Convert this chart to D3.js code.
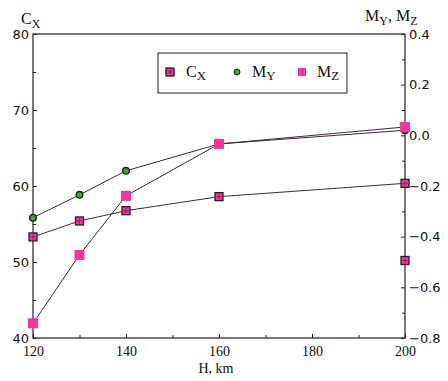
<!DOCTYPE html>
<html>
<head>
<meta charset="utf-8">
<script src="https://cdn.jsdelivr.net/npm/d3@7"></script>
<style>
  body { margin: 0; background: #fff; }
  svg { display: block; }
</style>
</head>
<body>
<svg id="chart" width="448" height="381"></svg>
<script>
const heights = [120, 130, 140, 160, 200];
const cxValues = [53.3, 55.4, 56.75, 58.6, 60.35];
const myValues = [-0.325, -0.235, -0.14, -0.034, 0.02];
const mzValues = [-0.742, -0.472, -0.239, -0.034, 0.033];
// lone Cx point at 200 km, not joined to the line
const cxExtra = [{h: 200, v: 50.2}];

const leftTicks = [40, 50, 60, 70, 80];
const rightTicks = [-0.8, -0.6, -0.4, -0.2, 0.0, 0.2, 0.4];
const xTicks = [120, 140, 160, 180, 200];

const PINK = '#f4369a';
const GREEN = '#3fa33a';
const INK = '#222';

const svg = d3.select('#chart');

const x = d3.scaleLinear().domain([120, 200]).range([33, 405]);
const yL = d3.scaleLinear().domain([40, 80]).range([338, 34]);
const yR = d3.scaleLinear().domain([-0.8, 0.4]).range([338, 34]);

// frame
svg.append('rect')
    .attr('x', 33).attr('y', 34)
    .attr('width', 372).attr('height', 304)
    .attr('fill', 'none')
    .attr('stroke', INK)
    .attr('stroke-width', 1.2);

function styleAxis(g, font) {
    g.select('.domain').remove();
    g.selectAll('line').attr('stroke', INK).attr('stroke-width', 1);
    g.selectAll('text')
        .attr('fill', '#111')
        .style('font-family', font)
        .style('font-size', '13px');
}

// minor ticks
svg.append('g').attr('transform', 'translate(33,0)')
    .call(d3.axisLeft(yL).tickValues(d3.range(45, 80, 10)).tickSize(-3).tickFormat(''))
    .call(g => styleAxis(g));
svg.append('g').attr('transform', 'translate(405,0)')
    .call(d3.axisRight(yR).tickValues(d3.range(-7, 4, 2).map(d => d / 10)).tickSize(-3).tickFormat(''))
    .call(g => styleAxis(g));
svg.append('g').attr('transform', 'translate(0,338)')
    .call(d3.axisBottom(x).tickValues(d3.range(130, 200, 20)).tickSize(-3).tickFormat(''))
    .call(g => styleAxis(g));

// major ticks
svg.append('g').attr('transform', 'translate(33,0)')
    .call(d3.axisLeft(yL).tickValues(leftTicks).tickSize(-4).tickPadding(4).tickFormat(d3.format('d')))
    .call(g => styleAxis(g, 'DejaVu Sans'));
svg.append('g').attr('transform', 'translate(405,0)')
    .call(d3.axisRight(yR).tickValues(rightTicks).tickSize(-4).tickPadding(4).tickFormat(d3.format('.1f')))
    .call(g => styleAxis(g, 'DejaVu Sans'));
svg.append('g').attr('transform', 'translate(0,338)')
    .call(d3.axisBottom(x).tickValues(xTicks).tickSize(-4).tickPadding(8).tickFormat(d3.format('d')))
    .call(g => styleAxis(g, 'Liberation Serif'))
    .call(g => g.selectAll('text').style('font-size', '14px'));

// axis titles
function subLabel(xPos, yPos, parts, anchor) {
    const t = svg.append('text')
        .attr('x', xPos).attr('y', yPos)
        .attr('text-anchor', anchor || 'start')
        .attr('fill', '#111')
        .style('font-family', 'Liberation Serif')
        .style('font-size', '16px');
    parts.forEach(p => {
        t.append('tspan')
            .attr('dy', p.sub ? 4 : (p.back ? -4 : 0))
            .style('font-size', p.sub ? '12px' : null)
            .text(p.t);
    });
    return t;
}
subLabel(21, 24, [{t: 'C'}, {t: 'X', sub: true}]);
subLabel(365, 21, [{t: 'M'}, {t: 'Y', sub: true}, {t: ', M', back: true}, {t: 'Z', sub: true}]);

svg.append('text')
    .attr('x', 216).attr('y', 373)
    .attr('text-anchor', 'middle')
    .attr('fill', '#111')
    .style('font-family', 'Liberation Serif')
    .style('font-size', '14px')
    .text('H, km');

// lines
const rows = heights.map((h, i) => ({h, cx: cxValues[i], my: myValues[i], mz: mzValues[i]}));
const lineOf = (key, y) => d3.line().x(d => x(d.h)).y(d => y(d[key]));

const lines = svg.append('g').attr('fill', 'none').attr('stroke', '#3a2c3a').attr('stroke-width', 1);
lines.append('path').attr('d', lineOf('cx', yL)(rows));
lines.append('path').attr('d', lineOf('my', yR)(rows));
lines.append('path').attr('d', lineOf('mz', yR)(rows));

// markers
function cxMarker(g, cx, cy) {
    g.append('rect')
        .attr('x', cx - 4).attr('y', cy - 4)
        .attr('width', 8).attr('height', 8)
        .attr('fill', PINK)
        .attr('stroke', INK).attr('stroke-width', 1.3);
    g.append('path')
        .attr('d', `M${cx - 2.5},${cy}H${cx + 2.5}M${cx},${cy - 2.5}V${cy + 2.5}`)
        .attr('stroke', '#7a1a4a').attr('stroke-width', 0.8);
}
function myMarker(g, cx, cy) {
    g.append('circle')
        .attr('cx', cx).attr('cy', cy).attr('r', 3.3)
        .attr('fill', GREEN)
        .attr('stroke', INK).attr('stroke-width', 1.4);
}
function mzMarker(g, cx, cy) {
    g.append('rect')
        .attr('x', cx - 5).attr('y', cy - 5)
        .attr('width', 10).attr('height', 10)
        .attr('fill', PINK);
}

const marks = svg.append('g');
rows.forEach(d => myMarker(marks, x(d.h), yR(d.my)));
rows.forEach(d => cxMarker(marks, x(d.h), yL(d.cx)));
cxExtra.forEach(d => cxMarker(marks, x(d.h), yL(d.v)));
rows.forEach(d => mzMarker(marks, x(d.h), yR(d.mz)));

// legend
const lg = svg.append('g');
lg.append('rect')
    .attr('x', 158).attr('y', 53)
    .attr('width', 189).attr('height', 40)
    .attr('fill', '#fff')
    .attr('stroke', INK).attr('stroke-width', 1);

const legendItems = [
    {draw: cxMarker, mx: 170, tx: 186, label: 'C', sub: 'X'},
    {draw: (g, a, b) => { g.append('circle').attr('cx', a).attr('cy', b).attr('r', 3).attr('fill', GREEN).attr('stroke', INK).attr('stroke-width', 1); }, mx: 237, tx: 252, label: 'M', sub: 'Y'},
    {draw: (g, a, b) => g.append('rect').attr('x', a - 4).attr('y', b - 4).attr('width', 8).attr('height', 8).attr('fill', PINK), mx: 302, tx: 317, label: 'M', sub: 'Z'}
];
legendItems.forEach(it => {
    it.draw(lg, it.mx, 72);
    const t = lg.append('text')
        .attr('x', it.tx).attr('y', 77)
        .attr('fill', '#111')
        .style('font-family', 'Liberation Serif')
        .style('font-size', '16px');
    t.append('tspan').text(it.label);
    t.append('tspan').attr('dy', 3).style('font-size', '13px').text(it.sub);
});
</script>
</body>
</html>
